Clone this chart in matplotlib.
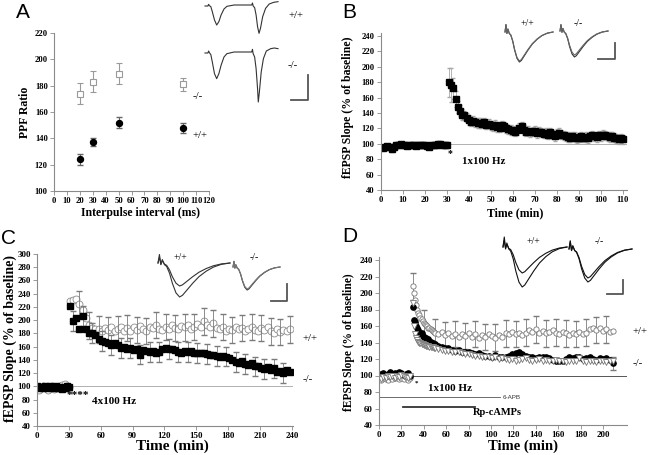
import numpy as np
import matplotlib.pyplot as plt

plt.rcParams['font.family'] = 'Liberation Serif'
plt.rcParams['font.weight'] = 'bold'
plt.rcParams['axes.labelweight'] = 'bold'

# ---- A: paired-pulse ratio
a_interval = [20, 30, 50, 100]
a_ko_ppf = [174, 183, 189, 181]
a_ko_err = [8, 8, 8, 5]
a_wt_ppf = [124, 137, 152, 148]
a_wt_err = [4, 3, 4, 4]

# ---- B: 1x100 Hz LTP
b_time_base = np.arange(1, 31)
b_base = [95, 96, 97, 96, 93, 96, 98, 99, 100, 99, 98, 97, 98, 99, 98,
          97, 99, 98, 99, 98, 97, 96, 98, 99, 98, 100, 100, 99, 98, 99]
b_base_err = [3] * 30
b_time_post = np.arange(31, 111)
b_post = [180, 176, 172, 158, 148, 143, 138, 137, 134, 131,
          129, 130, 128, 127, 127, 126, 128, 125, 126, 124,
          123, 125, 122, 121, 124, 123, 120, 119, 118, 117,
          116, 118, 121, 123, 118, 116, 117, 115, 116, 117,
          114, 116, 115, 113, 114, 112, 115, 112, 110, 113,
          114, 112, 111, 110, 109, 108, 110, 109, 107, 108,
          110, 108, 109, 107, 110, 111, 110, 109, 111, 110,
          112, 111, 110, 109, 110, 108, 107, 106, 107, 106]
b_post_err = [19, 22, 14, 10, 8, 7, 7, 6, 6, 6] + [6] * 70

# ---- C: 4x100 Hz LTP
c_time_base = np.arange(0, 31, 2)
c_ko_base = [100, 98, 99, 97, 101, 98, 100, 99, 97, 100, 98, 99, 96, 98, 100, 99]
c_wt_base = [96, 94, 99, 101, 97, 95, 98, 100, 96, 99, 97, 100, 102, 104, 101, 99]
c_time_post = np.arange(31, 241, 3)
c_ko_post = [221, 199, 204, 186, 206, 186, 180, 180, 178, 172,
             168, 167, 166, 163, 165, 162, 158, 160, 156, 158,
             155, 157, 148, 155, 153, 152, 154, 150, 152, 156,
             158, 157, 156, 155, 152, 150, 154, 152, 153, 151,
             150, 151, 150, 149, 148, 147, 146, 144, 146, 145,
             143, 140, 137, 135, 138, 134, 132, 135, 130, 131,
             128, 126, 129, 124, 127, 122, 123, 120, 124, 121]
c_wt_post = [229, 230, 232, 224, 215, 204, 192, 188, 187, 186,
             183, 188, 185, 189, 184, 186, 190, 184, 188, 183,
             189, 185, 191, 186, 184, 190, 188, 193, 187, 185,
             190, 186, 192, 188, 186, 191, 189, 193, 187, 190,
             194, 189, 198, 193, 190, 195, 188, 186, 190, 184,
             187, 185, 190, 186, 188, 183, 187, 190, 185, 183,
             188, 185, 190, 183, 180, 186, 182, 185, 183, 186]
c_ko_err = 15
c_wt_err = 20

# ---- D: 1x100 Hz with 6-APB / Rp-cAMPs
d_time_base = np.arange(0, 30, 2)
d_up_base = [96, 95, 97, 96, 95, 98, 96, 97, 99, 96, 97, 96, 98, 95, 97]
d_fill_base = [102, 101, 103, 100, 102, 104, 101, 103, 102, 104, 103, 101, 102, 103, 100]
d_tri_base = [97, 96, 98, 97, 99, 98, 100, 97, 99, 98, 101, 99, 98, 97, 99]
d_time_post = np.concatenate([np.arange(30, 50), np.arange(50, 211, 3)])
d_up_post = [208, 200, 192, 186, 180, 176, 173, 170, 168, 166,
             164, 163, 161, 160, 158, 157, 156, 155, 154, 153,
             152, 150, 153, 149, 151, 148, 150, 147, 150, 148,
             151, 147, 150, 146, 149, 147, 150, 148, 146, 149,
             147, 151, 150, 153, 150, 152, 149, 152, 155, 153,
             156, 152, 154, 151, 153, 155, 152, 150, 153, 151,
             149, 152, 150, 153, 150, 152, 156, 158, 155, 157,
             154, 156, 153, 154]
d_fill_post = [183, 167, 165, 160, 157, 155, 152, 150, 152, 148,
               147, 146, 145, 143, 144, 142, 141, 140, 139, 138,
               138, 136, 135, 133, 133, 131, 130, 131, 129, 128,
               128, 127, 126, 127, 125, 124, 124, 123, 125, 122,
               123, 122, 124, 126, 127, 128, 126, 124, 123, 122,
               121, 122, 123, 122, 121, 119, 118, 117, 118, 120,
               122, 121, 123, 122, 120, 121, 123, 120, 119, 121,
               120, 121, 119, 115]
d_tri_post = [188, 160, 150, 146, 143, 141, 140, 139, 138, 138,
              137, 137, 136, 136, 136, 135, 135, 134, 134, 133,
              133, 132, 131, 130, 130, 129, 128, 128, 127, 126,
              126, 125, 124, 124, 123, 122, 123, 121, 122, 120,
              121, 120, 119, 120, 118, 119, 120, 121, 119, 118,
              119, 120, 118, 119, 117, 118, 119, 117, 118, 116,
              118, 117, 118, 121, 118, 116, 117, 118, 116, 117,
              118, 116, 117, 118]
d_up_err_idx = [0, 10] + list(range(20, 74, 3))
d_up_err = 16

# ---- inset traces (x fraction, y downward)
pp_x_wt = [0, 0.04, 0.05, 0.06, 0.08, 0.1, 0.13, 0.16, 0.19, 0.22, 0.26, 0.3, 0.4, 0.5,
           0.62, 0.64, 0.65, 0.66, 0.68, 0.7, 0.72, 0.74, 0.76, 0.79, 0.83, 0.88, 0.94, 1.0]
pp_y_wt = [3, 3, -2, 2, 5, 20, 45, 60, 50, 30, 12, 4, 0, 0,
           0, 0, -6, 3, 8, 30, 65, 85, 70, 35, 10, -3, -8, -10]
pp_x_ko = [0, 0.04, 0.05, 0.06, 0.08, 0.1, 0.13, 0.16, 0.19, 0.22, 0.26, 0.3, 0.4, 0.5,
           0.63, 0.64, 0.65, 0.66, 0.68, 0.7, 0.72, 0.73, 0.745, 0.77, 0.8, 0.84, 0.9, 0.95, 1.0]
pp_y_ko = [3, 3, -3, 2, 8, 30, 65, 80, 65, 40, 15, 5, 0, 0,
           0, 0, -8, 5, 15, 50, 110, 150, 120, 60, 20, -3, -10, -12, -10]
ep_x = [0, 0.02, 0.04, 0.06, 0.09, 0.12, 0.16, 0.2, 0.25, 0.3, 0.34, 0.4, 0.48, 0.57, 0.67, 0.77, 0.88, 1.0]
ep_y = [0, -0.25, 0.05, -0.1, 0.05, 0.1, 0.3, 0.6, 0.88, 1.0, 0.95, 0.8, 0.6, 0.4, 0.24, 0.12, 0.04, 0.0]

W, H = 648, 455
fig = plt.figure(figsize=(6.48, 4.55), dpi=100)


def px_axes(left, bottom, right, top):
    return fig.add_axes([left / W, 1 - bottom / H, (right - left) / W, (bottom - top) / H])


def style(ax, xlim, ylim, xticks, yticks, fs):
    ax.set_xlim(*xlim)
    ax.set_ylim(*ylim)
    ax.set_xticks(xticks)
    ax.set_yticks(yticks)
    for s in ['top', 'right']:
        ax.spines[s].set_visible(False)
    for s in ['left', 'bottom']:
        ax.spines[s].set_color('#8a8a8a')
        ax.spines[s].set_linewidth(0.8)
    ax.tick_params(direction='out', length=3, width=0.6, color='#8a8a8a', labelsize=fs, pad=1.5)
    for lab in ax.get_xticklabels() + ax.get_yticklabels():
        lab.set_fontweight('bold')


gray = '#8c8c8c'

# ---------- A
axA = px_axes(54, 191, 209, 33)
axA.errorbar(a_interval, a_ko_ppf, yerr=a_ko_err, fmt='s', ms=4, mfc='white', mec='#9a9a9a',
             mew=0.8, ecolor='#9a9a9a', elinewidth=0.8, capsize=2)
axA.errorbar(a_interval, a_wt_ppf, yerr=a_wt_err, fmt='o', ms=4.3, color='black',
             ecolor='#666', elinewidth=0.8, capsize=2)
style(axA, (0, 120), (100, 220), np.arange(0, 121, 10), np.arange(100, 221, 20), 6.2)
axA.set_xlabel('Interpulse interval (ms)', fontsize=8.5, va='center')
axA.set_ylabel('PPF Ratio', fontsize=8.5, va='center')
axA.xaxis.set_label_coords(0.555, -0.139)
axA.yaxis.set_label_coords(-0.187, 0.5)
axA.text(107, 172, '-/-', fontsize=7.8, weight='normal', va='center')
axA.text(107, 142, '+/+', fontsize=7.8, weight='normal', va='center')

# ---------- B
axB = px_axes(380.7, 190, 627.4, 33)
axB.axhline(100, color='#b0b0b0', lw=0.7, zorder=0)
axB.errorbar(b_time_base, b_base, yerr=b_base_err, fmt='none', ecolor='#a8a8a8', elinewidth=0.6, capsize=1.5)
axB.errorbar(b_time_post, b_post, yerr=b_post_err, fmt='none', ecolor='#a8a8a8', elinewidth=0.6, capsize=1.5)
axB.plot(b_time_base, b_base, 's', ms=4, color='black')
axB.plot(b_time_post, b_post, 's', ms=4, color='black')
style(axB, (0, 112), (40, 244), np.arange(0, 111, 10), np.arange(40, 241, 20), 6.2)
axB.set_xlabel('Time (min)', fontsize=8.5, va='center')
axB.set_ylabel('fEPSP Slope (% of baseline)', fontsize=8.5, va='center')
axB.xaxis.set_label_coords(0.544, -0.146)
axB.yaxis.set_label_coords(-0.133, 0.53)
axB.text(31.5, 87, '*', fontsize=7, ha='center', va='center')
axB.text(37, 77, '1x100 Hz', fontsize=7.8, va='center')

# ---------- C
axC = px_axes(37, 426, 293, 254)
axC.axhline(100, color='#b0b0b0', lw=0.7, zorder=0)
axC.plot(c_time_base, c_wt_base, 'o', ms=5, mfc='white', mec=gray, mew=0.6)
axC.plot(c_time_post, c_wt_post, 'o', ms=5, mfc='white', mec=gray, mew=0.6)
axC.errorbar(c_time_post, c_wt_post, yerr=c_wt_err, fmt='none', ecolor='#7a7a7a',
             elinewidth=0.6, capsize=2, errorevery=(3, 3))
axC.errorbar(c_time_post, c_ko_post, yerr=c_ko_err, fmt='none', ecolor='#7a7a7a',
             elinewidth=0.6, capsize=2, errorevery=(1, 3))
axC.plot(c_time_base, c_ko_base, 's', ms=4.3, color='black')
axC.plot(c_time_post, c_ko_post, 's', ms=4.3, color='black')
style(axC, (0, 241), (40, 300), np.arange(0, 241, 30), np.arange(40, 301, 20), 6.4)
axC.set_xlabel('Time (min)', fontsize=11, va='center')
axC.set_ylabel('fEPSP Slope (% of baseline)', fontsize=10, va='center')
axC.xaxis.set_label_coords(0.53, -0.116)
axC.yaxis.set_label_coords(-0.105, 0.51)
axC.text(28, 86, '****', fontsize=8, va='center')
axC.text(52, 77, '4x100 Hz', fontsize=8, va='center')
axC.text(250, 173, '+/+', fontsize=7.8, weight='normal', va='center', clip_on=False)
axC.text(250, 111, '-/-', fontsize=7.8, weight='normal', va='center', clip_on=False)

# ---------- D
axD = px_axes(379, 425, 626.5, 256.7)
axD.axhline(100, color='#555', lw=0.7, zorder=0)
axD.errorbar(d_time_post[d_up_err_idx], np.array(d_up_post)[d_up_err_idx], yerr=d_up_err,
             fmt='none', ecolor='#7a7a7a', elinewidth=0.6, capsize=2)
axD.errorbar(d_time_post[-1:], d_fill_post[-1:], yerr=8, fmt='none', ecolor='#7a7a7a',
             elinewidth=0.6, capsize=2)
axD.plot(d_time_base, d_up_base, 'o', ms=3.8, mfc='white', mec='#777', mew=0.6)
axD.plot(d_time_post, d_up_post, 'o', ms=3.8, mfc='white', mec='#777', mew=0.6)
axD.plot(d_time_base, d_fill_base, 'o', ms=3.8, color='black')
axD.plot(d_time_post, d_fill_post, 'o', ms=3.8, color='black')
axD.plot(d_time_base, d_tri_base, 'v', ms=3.8, mfc='white', mec='#777', mew=0.6)
axD.plot(d_time_post, d_tri_post, 'v', ms=3.8, mfc='white', mec='#777', mew=0.6)
style(axD, (0, 221), (40, 244), np.arange(0, 201, 20), np.arange(40, 241, 20), 6.4)
axD.set_xlabel('Time (min)', fontsize=10.5, va='center')
axD.set_ylabel('fEPSP Slope (% of baseline)', fontsize=8.3, va='center')
axD.xaxis.set_label_coords(0.58, -0.125)
axD.yaxis.set_label_coords(-0.121, 0.49)
axD.text(33, 91, '*', fontsize=5, ha='center', va='center')
axD.text(44, 84, '1x100 Hz', fontsize=8, va='center')
axD.plot([0, 108], [74, 74], color='#555', lw=0.6)
axD.text(110, 73, '6-APB', family='Liberation Sans', weight='normal', fontsize=4.5,
         color='#333', va='center')
axD.plot([21, 86], [62, 62], color='#333', lw=1.3)
axD.text(84, 55, 'Rp-cAMPs', fontsize=7.5, va='center')
axD.text(226, 153, '+/+', fontsize=7.8, weight='normal', va='center', clip_on=False)
axD.text(226, 115, '-/-', fontsize=7.8, weight='normal', va='center', clip_on=False)

# ---------- overlay for insets and panel letters (pixel coordinates)
ov = fig.add_axes([0, 0, 1, 1], zorder=5)
ov.set_xlim(0, W)
ov.set_ylim(H, 0)
ov.axis('off')


def trace(x0, w, y0, depth, tx, ty, color='#333'):
    ov.plot(x0 + w * np.asarray(tx), y0 + depth * np.asarray(ty), color=color, lw=0.8)


def scalebar(xh, xv, ytop, ybot):
    ov.plot([xh, xv, xv], [ybot, ybot, ytop], color='#555', lw=1.3)


def label(x, y, s, fs=7):
    ov.text(x, y, s, fontsize=fs, weight='normal', ha='center', va='center')


# A insets
trace(205, 73, 5, 1 / 3, pp_x_wt, pp_y_wt)
trace(205, 73, 52, 1 / 3, pp_x_ko, pp_y_ko)
scalebar(291, 308, 75, 100)
label(296, 15, '+/+', 7.8)
label(293, 65, '-/-', 7.8)

# B insets
trace(505, 48, 32, 30, ep_x, ep_y)
trace(505, 48, 32, 29, ep_x, ep_y, '#666')
trace(560, 48, 31, 26, ep_x, ep_y)
trace(560, 48, 31, 24, ep_x, ep_y, '#666')
scalebar(598, 615, 43, 59)
label(527, 23, '+/+')
label(578, 23, '-/-')

# C insets
trace(158, 72, 263, 34, ep_x, ep_y)
trace(158, 72, 263, 23, ep_x, ep_y)
trace(233, 47, 267, 23, ep_x, ep_y)
trace(233, 47, 267, 22, ep_x, ep_y, '#777')
scalebar(271, 287, 284, 301)
label(180, 257, '+/+')
label(254, 257, '-/-')

# D insets
trace(503, 64, 247, 40, ep_x, ep_y, '#111')
trace(503, 64, 247, 26, ep_x, ep_y, '#111')
trace(569, 63, 249, 33, ep_x, ep_y, '#111')
trace(569, 63, 249, 29, ep_x, ep_y, '#111')
scalebar(607, 623, 280, 294)
label(533, 242, '+/+')
label(599, 242, '-/-')

# panel letters
for x, y, s in [(16, 13, 'A'), (342, 13, 'B'), (1, 238, 'C'), (342, 237, 'D')]:
    ov.text(x, y, s, family='Liberation Sans', weight='normal', fontsize=15, va='center')

fig.savefig('out.png', dpi=100)
